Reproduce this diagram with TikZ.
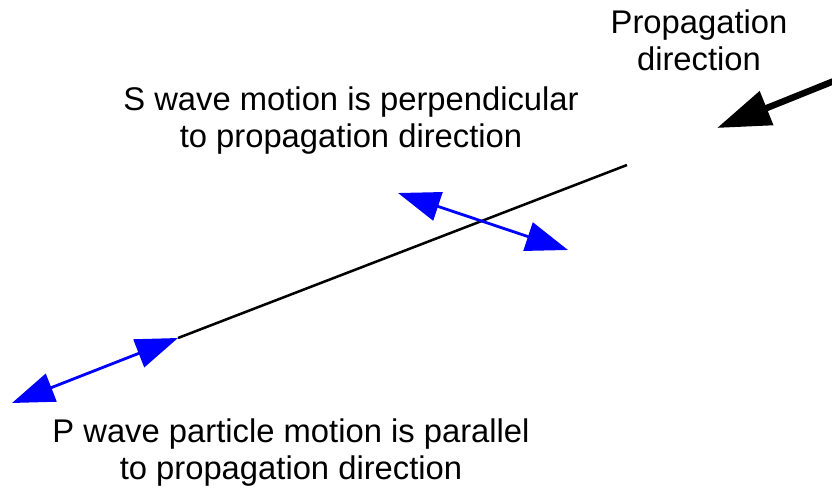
\documentclass[tikz,border=0pt]{standalone}
\usepackage{fontspec}
\setmainfont{Liberation Sans}
\usetikzlibrary{arrows.meta,positioning}

\begin{document}
\begin{tikzpicture}[x=0.025cm, y=-0.025cm,
  every node/.style={font=\fontsize{23.3}{26.3}\selectfont, align=center, inner sep=0pt},
  motion/.style={draw=blue, line width=2pt, {Triangle[length=30pt,width=21pt]}-{Triangle[length=30pt,width=21pt]}},
  ray/.style={draw=black, line width=1.8pt},
  heading/.style={draw=black, line width=4.6pt, -{Triangle[length=38pt,width=25pt]}}]
  \useasboundingbox (0,0) rectangle (832,491);
  \node (prop) at (699,40) {Propagation\\direction};
  \node (swave) at (351,121) {S wave motion is perpendicular\\to propagation direction};
  \node (pwave) at (291,453) {P wave particle motion is parallel\\to propagation direction};
  \coordinate (raystart) at (178,338);
  \coordinate (rayend) at (627,165);
  \coordinate (pfar) at (12,403);
  \coordinate (sleft) at (398,193);
  \coordinate (sright) at (568,250);
  \coordinate (source) at (834,81);
  \coordinate (target) at (717,128);
  \draw[ray] (raystart) -- (rayend);
  \draw[motion] (pfar) -- (raystart);
  \draw[motion] (sleft) -- (sright);
  \draw[heading] (source) -- (target);
\end{tikzpicture}
\end{document}
